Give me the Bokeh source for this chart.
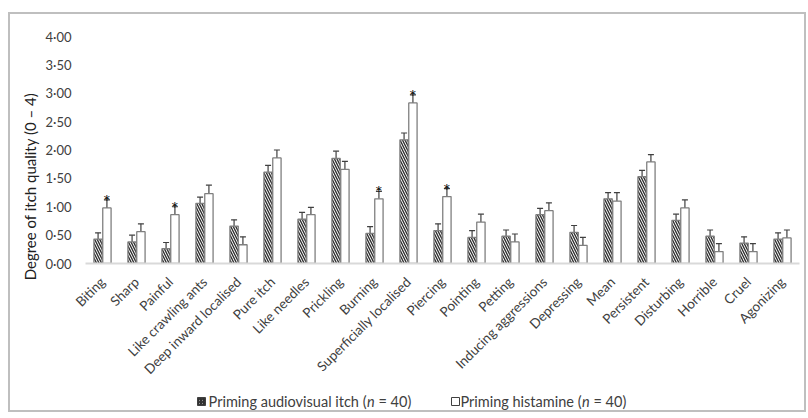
from bokeh.plotting import figure
from bokeh.layouts import column
from bokeh.models import (ColumnDataSource, FactorRange, Range1d, Whisker,
                          FixedTicker, TeeHead)
from bokeh.transform import dodge
from bokeh.core.properties import value
from bokeh.embed import file_html
from bokeh.resources import INLINE

categories = ["Biting", "Sharp", "Painful", "Like crawling ants", "Deep inward localised",
              "Pure itch", "Like needles", "Prickling", "Burning", "Superficially localised",
              "Piercing", "Pointing", "Petting", "Inducing aggressions", "Depressing",
              "Mean", "Persistent", "Disturbing", "Horrible", "Cruel", "Agonizing"]
audiovisual = [0.43, 0.38, 0.26, 1.06, 0.66, 1.61, 0.78, 1.85, 0.53, 2.18, 0.58,
               0.46, 0.48, 0.86, 0.55, 1.14, 1.53, 0.76, 0.48, 0.36, 0.43]
audiovisual_err = [0.11, 0.12, 0.11, 0.11, 0.11, 0.12, 0.12, 0.13, 0.12, 0.12, 0.12,
                   0.12, 0.11, 0.11, 0.12, 0.11, 0.11, 0.11, 0.11, 0.11, 0.11]
histamine = [0.98, 0.56, 0.86, 1.23, 0.33, 1.86, 0.86, 1.66, 1.14, 2.83, 1.18,
             0.73, 0.38, 0.93, 0.32, 1.10, 1.79, 0.98, 0.21, 0.21, 0.45]
histamine_err = [0.14, 0.14, 0.14, 0.15, 0.14, 0.14, 0.13, 0.14, 0.13, 0.14, 0.14,
                 0.14, 0.14, 0.14, 0.14, 0.15, 0.13, 0.14, 0.14, 0.14, 0.14]
significant = ["Biting", "Painful", "Burning", "Superficially localised", "Piercing"]
y_ticks = [0, 0.5, 1.0, 1.5, 2.0, 2.5, 3.0, 3.5, 4.0]
y_tick_labels = ["0·00", "0·50", "1·00", "1·50", "2·00", "2·50", "3·00", "3·50", "4·00"]
y_title = "Degree of itch quality (0 – 4)"
legend_names = ["Priming audiovisual itch (", "Priming histamine ("]
legend_n = "n"
legend_count = "= 40)"

FONT = "Lato"
TXT = "#404040"

src = ColumnDataSource(dict(
    cat=categories,
    av=audiovisual,
    av_lo=[v - e for v, e in zip(audiovisual, audiovisual_err)],
    av_hi=[v + e for v, e in zip(audiovisual, audiovisual_err)],
    hi=histamine,
    hi_lo=[v - e for v, e in zip(histamine, histamine_err)],
    hi_hi=[v + e for v, e in zip(histamine, histamine_err)],
))
sig_idx = [categories.index(c) for c in significant]
sig_src = ColumnDataSource(dict(
    cat=significant,
    y=[histamine[i] + histamine_err[i] for i in sig_idx],
    t=["*"] * len(significant),
))

W_PX = 794
BL, BR = 75, 5
p = figure(x_range=FactorRange(*categories), y_range=Range1d(0, 4),
           width=W_PX, height=372, output_backend="svg", toolbar_location=None,
           min_border_left=BL, min_border_right=BR, min_border_top=22, min_border_bottom=123,
           outline_line_color=None)
p.xgrid.visible = False
p.ygrid.visible = False

OFF = 0.13
W = 0.245
HATCH = dict(hatch_pattern="\\", hatch_color="#303030", hatch_weight=1.4)
p.vbar(x=dodge("cat", -OFF, range=p.x_range), top="av", width=W, source=src,
       fill_color="white", line_color="#7f7f7f", line_width=1.3, hatch_scale=5, **HATCH)
p.vbar(x=dodge("cat", OFF, range=p.x_range), top="hi", width=W, source=src,
       fill_color="white", line_color="#7f7f7f", line_width=1.3)

for base, lo, hi in [(dodge("cat", -OFF, range=p.x_range), "av_lo", "av_hi"),
                     (dodge("cat", OFF, range=p.x_range), "hi_lo", "hi_hi")]:
    p.add_layout(Whisker(base=base, lower=lo, upper=hi, source=src,
                         line_color="#404040", line_width=1.2,
                         upper_head=TeeHead(size=6, line_color="#404040", line_width=1.2),
                         lower_head=TeeHead(size=6, line_color="#404040", line_width=1.2)))

p.text(x=dodge("cat", OFF, range=p.x_range), y="y", text="t", source=sig_src,
       text_font=value(FONT), text_font_size="18px", text_color="#000000",
       text_align="center", text_baseline="alphabetic", y_offset=1)

# axes
p.yaxis.ticker = FixedTicker(ticks=y_ticks)
p.yaxis.major_label_overrides = {t: l for t, l in zip(y_ticks, y_tick_labels)}
p.yaxis.axis_line_color = None
p.yaxis.major_tick_line_color = None
p.yaxis.minor_tick_line_color = None
p.yaxis.major_tick_out = 0
p.yaxis.major_label_standoff = 14
p.yaxis.major_label_text_font = FONT
p.yaxis.major_label_text_font_size = "13px"
p.yaxis.major_label_text_color = TXT
# the original's axis title sits lower than the plot-area centre: pad its end
# with non-breaking spaces so the visible words move down
p.yaxis.axis_label = y_title + "\u00a0" * 19
p.yaxis.axis_label_text_font = FONT
p.yaxis.axis_label_text_font_size = "15px"
p.yaxis.axis_label_text_font_style = "normal"
p.yaxis.axis_label_text_color = "#202020"
p.yaxis.axis_label_standoff = 3

p.xaxis.axis_line_color = "#d9d9d9"
p.xaxis.axis_line_width = 2
p.xaxis.major_tick_line_color = None
p.xaxis.major_tick_out = 0
p.xaxis.major_label_orientation = 0.785
p.xaxis.major_label_standoff = 16
p.xaxis.major_label_text_font = FONT
p.xaxis.major_label_text_font_size = "13.5px"
p.xaxis.major_label_text_color = TXT

# legend strip: its frame is aligned with the chart frame (page x 85..799)
q = figure(width=W_PX, height=24, x_range=Range1d(85, 799), y_range=Range1d(0, 24),
           output_backend="svg", toolbar_location=None, min_border=0,
           min_border_left=BL, min_border_right=BR,
           x_axis_type=None, y_axis_type=None, outline_line_color=None)
q.xgrid.visible = False
q.ygrid.visible = False
LY = 9
icon_x = [201, 455]
name_right = [366, 581]
q.rect(x=[icon_x[0]], y=[LY], width=8, height=8, fill_color="white",
       line_color="#404040", line_width=1, hatch_scale=3, **HATCH)
q.rect(x=[icon_x[1]], y=[LY], width=8, height=8, fill_color="white",
       line_color="#404040", line_width=1)
common = dict(text_font=value(FONT), text_font_size="14.5px", text_color=TXT,
              text_baseline="middle")
q.text(x=name_right, y=[LY, LY], text=legend_names, text_align="right", **common)
q.text(x=[v + 0.5 for v in name_right], y=[LY, LY], text=[legend_n] * 2,
       text_align="left", text_font_style="italic", **common)
q.text(x=[v + 12 for v in name_right], y=[LY, LY], text=[legend_count] * 2,
       text_align="left", **common)

layout = column(p, q, spacing=0, margin=(12, 0, 0, 8),
                styles={"border": "2px solid #bfbfbf"})

open("out.html", "w").write(file_html(layout, INLINE))
